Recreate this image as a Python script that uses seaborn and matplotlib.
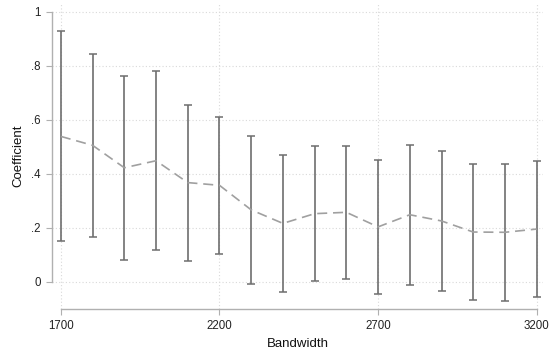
import matplotlib
matplotlib.use("Agg")
import matplotlib.pyplot as plt
import seaborn as sns
import pandas as pd
import numpy as np

# Bandwidth sensitivity: point estimates with 95% confidence intervals
bandwidth = [1700, 1800, 1900, 2000, 2100, 2200, 2300, 2400,
             2500, 2600, 2700, 2800, 2900, 3000, 3100, 3200]
coef = [0.539, 0.506, 0.423, 0.449, 0.368, 0.358, 0.267, 0.217,
        0.253, 0.258, 0.204, 0.249, 0.226, 0.185, 0.184, 0.196]
ci_low = [0.151, 0.168, 0.083, 0.117, 0.079, 0.105, -0.007, -0.037,
          0.004, 0.011, -0.043, -0.012, -0.032, -0.068, -0.069, -0.056]
ci_high = [0.928, 0.844, 0.763, 0.780, 0.657, 0.611, 0.541, 0.471,
           0.502, 0.504, 0.451, 0.509, 0.484, 0.438, 0.437, 0.447]

x_ticks = [1700, 2200, 2700, 3200]
y_ticks = [0, 0.2, 0.4, 0.6, 0.8, 1]
y_tick_labels = ["0", ".2", ".4", ".6", ".8", "1"]

df = pd.DataFrame({"bandwidth": bandwidth, "coef": coef,
                   "lo": ci_low, "hi": ci_high})

sns.set_theme(style="white")
plt.rcParams["font.family"] = ["Liberation Sans", "DejaVu Sans"]

fig = plt.figure(figsize=(5.54, 3.54), dpi=100)
ax = fig.add_axes([52 / 554, 45 / 354, (543 - 52) / 554, (351 - 45) / 354])

# confidence intervals
err = np.vstack([df["coef"] - df["lo"], df["hi"] - df["coef"]])
ax.errorbar(df["bandwidth"], df["coef"], yerr=err, fmt="none",
            ecolor="#6e6e6e", elinewidth=1.2, capsize=2.6, capthick=1.1,
            zorder=3)

# point estimates
sns.lineplot(data=df, x="bandwidth", y="coef", ax=ax, color="#a0a0a0",
             linewidth=1.2, linestyle=(0, (6, 3.5)), zorder=4)

ax.set_xlim(1672, 3220)
ax.set_ylim(-0.1, 1.033)
ax.set_xticks(x_ticks)
ax.set_xticklabels([str(v) for v in x_ticks])
ax.set_yticks(y_ticks)
ax.set_yticklabels(y_tick_labels)

ax.grid(True, color="#d9d9d9", linestyle=(0, (1, 2)), linewidth=0.8)
ax.set_axisbelow(True)

for s in ["top", "right"]:
    ax.spines[s].set_visible(False)
for s in ["left", "bottom"]:
    ax.spines[s].set_color("#b0b0b0")
    ax.spines[s].set_linewidth(1.0)
ax.spines["left"].set_bounds(0, 1)
ax.spines["bottom"].set_bounds(1700, 3200)

ax.tick_params(axis="both", which="both", direction="out", length=4,
               width=0.8, color="#b0b0b0", labelsize=8.3,
               labelcolor="#222222", pad=4)
ax.tick_params(axis="x", bottom=True)
ax.tick_params(axis="y", left=True)

ax.set_xlabel("Bandwidth", fontsize=9.5, color="#111111", labelpad=4)
ax.set_ylabel("Coefficient", fontsize=9.5, color="#111111", labelpad=5)

fig.savefig("out.png", dpi=100, facecolor="white")
